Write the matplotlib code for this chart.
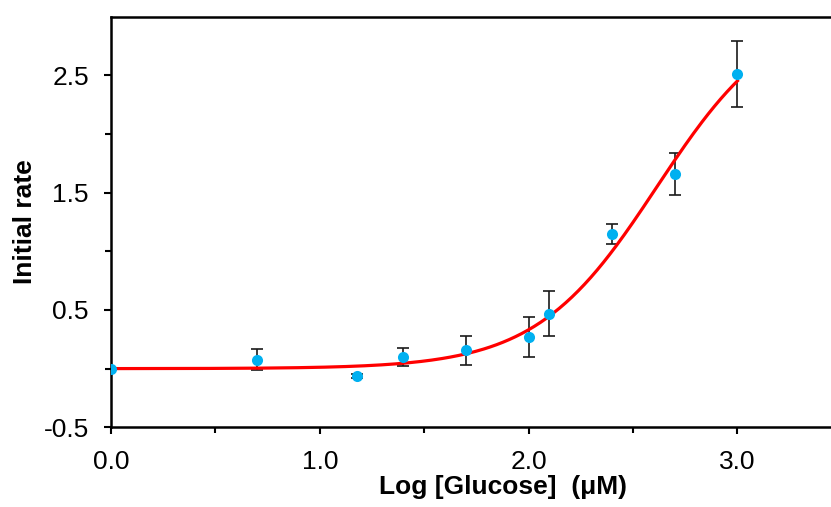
import numpy as np
import matplotlib
matplotlib.use("Agg")
import matplotlib.pyplot as plt
from matplotlib.ticker import FixedLocator

plt.rcParams['font.family'] = ['Liberation Sans', 'DejaVu Sans']

# Data: log10 glucose concentration (uM) vs initial rate
log_glucose = [0.0, 0.699, 1.176, 1.398, 1.699, 2.0, 2.097, 2.398, 2.699, 3.0]
initial_rate = [0.0, 0.075, -0.063, 0.10, 0.155, 0.27, 0.47, 1.15, 1.66, 2.51]
rate_error = [0.0, 0.09, 0.02, 0.08, 0.125, 0.17, 0.19, 0.085, 0.18, 0.28]

# Hill fit parameters (log space logistic)
vmax = 3.10
hill_n = 1.5
log_k = np.log10(8348) / 1.5

x_ticks = [0.0, 1.0, 2.0, 3.0]
x_tick_labels = ["0.0", "1.0", "2.0", "3.0"]
y_ticks = [-0.5, 0.5, 1.5, 2.5]
y_tick_labels = ["-0.5", "0.5", "1.5", "2.5"]

fig = plt.figure(figsize=(8.31, 5.07), dpi=100)
ax = fig.add_axes([111 / 831, 79.7 / 507, 1 - 111 / 831 + 0.002, 410.6 / 507])

xfit = np.linspace(min(log_glucose), max(log_glucose), 300)
yfit = vmax / (1 + 10 ** (hill_n * (log_k - xfit)))
ax.plot(xfit, yfit, color='#FF0000', lw=2.3, zorder=2)

ax.errorbar(log_glucose, initial_rate, yerr=rate_error, fmt='none',
            ecolor='#1a1a1a', elinewidth=1.2, capsize=4.6, capthick=1.2, zorder=1)
ax.plot(log_glucose, initial_rate, 'o', color='#00B0F0', markersize=8,
        markeredgewidth=0, zorder=3)

ax.set_xlim(0, 3.456)
ax.set_ylim(-0.5, 3.0)

ax.set_xticks(x_ticks)
ax.set_xticklabels(x_tick_labels)
ax.set_yticks(y_ticks)
ax.set_yticklabels(y_tick_labels)
ax.xaxis.set_minor_locator(FixedLocator([0.5, 1.5, 2.5]))
ax.yaxis.set_minor_locator(FixedLocator([0.0, 1.0, 2.0]))

ax.tick_params(axis='both', which='major', direction='out', length=5, width=1.5,
               labelsize=19, color='black')
ax.tick_params(axis='y', which='major', pad=11)
ax.tick_params(axis='x', which='major', pad=11)
ax.tick_params(axis='both', which='minor', direction='out', length=4, width=1.5)

for s in ['left', 'bottom', 'top']:
    ax.spines[s].set_linewidth(1.8)
ax.spines['right'].set_visible(False)

ax.set_xlabel('Log [Glucose]  (\u03bcM)', fontsize=19, fontweight='bold', labelpad=1)
ax.xaxis.label.set_x(0.5434)
ax.set_ylabel('Initial rate', fontsize=19, fontweight='bold', labelpad=5)

fig.savefig('out.png', dpi=100)
